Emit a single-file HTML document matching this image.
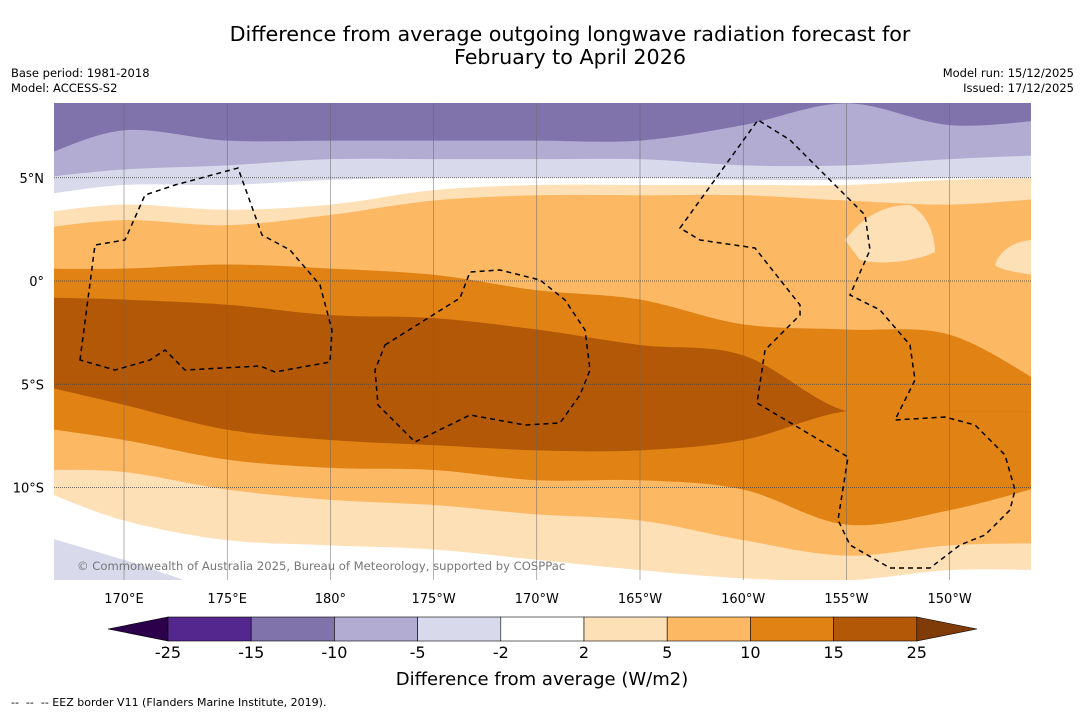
<!DOCTYPE html>
<html><head><meta charset="utf-8"><style>
body{margin:0;background:#fff;font-family:"DejaVu Sans","Liberation Sans",sans-serif;}
#wrap{position:relative;width:1085px;height:713px;overflow:hidden;background:#fff}
svg text{font-family:"DejaVu Sans","Liberation Sans",sans-serif;white-space:pre;}
</style></head><body>
<div id="wrap">
<svg id="svg" width="1085" height="713" xmlns="http://www.w3.org/2000/svg">
<text x="570" y="41" font-size="20.7" text-anchor="middle" fill="#000">Difference from average outgoing longwave radiation forecast for</text>
<text x="570" y="64" font-size="20.7" text-anchor="middle" fill="#000">February to April 2026</text>
<text x="11" y="77" font-size="11.5">Base period: 1981-2018</text>
<text x="11" y="92" font-size="11.5">Model: ACCESS-S2</text>
<text x="1074" y="77" font-size="11.5" text-anchor="end">Model run: 15/12/2025</text>
<text x="1074" y="92" font-size="11.5" text-anchor="end">Issued: 17/12/2025</text>
<defs><clipPath id="mapclip"><rect x="54" y="103" width="977" height="477"/></clipPath></defs>
<g id="map" clip-path="url(#mapclip)">
<rect x="54" y="103" width="977" height="477" fill="#8073ac"/>
<g id="bands"></g>
<path d="M845,240 C860,220 880,205 910,205 C930,215 935,240 935,252 C915,262 880,265 860,260 Z" fill="#fee0b6"/>
<path d="M995,265 C1000,250 1015,240 1035,240 L1035,275 C1020,273 1000,270 995,265 Z" fill="#fee0b6"/>
<g id="grid"></g>
<g fill="none" stroke="#000" stroke-width="1.5" stroke-dasharray="5,4">
<path d="M80,360 L95,245 L125,240 L145,195 L175,185 L238,168 L262,235 L290,250 L320,285 L332,330 L330,362 L275,372 L260,366 L185,370 L165,350 L150,360 L115,370 Z"/>
<path d="M385,345 L460,298 L470,272 L500,270 L540,280 L565,300 L585,330 L590,370 L580,395 L560,423 L525,425 L470,415 L415,442 L378,405 L375,370 Z"/>
<path d="M680,228 L758,120 L790,140 L835,185 L865,215 L870,250 L850,295 L880,310 L910,345 L915,380 L895,420 L945,417 L975,425 L1005,455 L1015,490 L1010,510 L985,535 L960,545 L930,568 L890,568 L850,545 L838,520 L848,457 L757,403 L765,350 L800,315 L800,305 L755,248 L700,240 Z"/>
</g>
<text x="77" y="570" font-size="11.6" fill="#777">© Commonwealth of Australia 2025, Bureau of Meteorology, supported by COSPPac</text>
</g>
<g id="axes"></g>
<g id="cbar"></g>
<text x="542" y="685" font-size="18" text-anchor="middle">Difference from average (W/m2)</text>
<text x="11" y="706" font-size="11" xml:space="preserve">--  --  -- EEZ border V11 (Flanders Marine Institute, 2019).</text>
</svg>
</div>
<script>
// longitudes in degrees east (180+ = west)
const lons=[166.6,170,175,180,185,190,195,200,205,210,214];
const c_m10=[6.0,7.3,6.8,6.8,6.8,6.8,6.8,7.55,8.6,7.55,7.8];
const c_m5=[5.0,5.4,5.6,5.9,5.9,5.9,5.9,5.6,5.6,5.9,6.1];
const c_m2n=[4.15,4.65,4.65,4.9,5.0,5.0,5.0,4.9,4.9,5.0,5.0];
const c_2n=[3.3,3.7,3.45,3.7,4.4,4.65,4.65,4.65,4.65,4.9,5.0];
const c_5n=[2.55,2.95,2.7,3.2,3.9,4.15,4.15,4.15,3.9,3.7,4.0];
const c_10n=[0.6,0.6,0.8,0.6,0.3,-0.45,-0.9,-2.1,-2.35,-2.6,-5.05];
const c_15n=[-0.8,-0.9,-1.15,-1.65,-1.8,-2.35,-3.1,-3.6,-6.3,-6.3,-6.3];
const c_15s=[-5.05,-6.0,-7.2,-7.7,-7.95,-8.2,-8.2,-7.7,-6.3,-6.3,-6.3];
const c_10s=[-7.1,-7.7,-8.65,-9.05,-9.15,-9.65,-9.65,-10.1,-11.8,-11.1,-9.9];
const c_5s=[-9.15,-9.25,-10.1,-10.6,-10.85,-11.3,-11.6,-12.55,-13.3,-12.8,-12.7];
const c_2s=[-10.1,-11.6,-12.55,-12.8,-13.0,-13.5,-14.0,-14.4,-14.5,-14.0,-14.0];
const c_m2s=[-12.3,-13.5,-15,-15,-15,-15,-15,-15,-15,-15,-15];
const cbLevels=[-25,-15,-10,-5,-2,2,5,10,15,25];
const cbColors=["#54278f","#8073ac","#b2abd2","#d8daeb","#ffffff","#fee0b6","#fdb863","#e08214","#b35806"];
const lonTicks=[170,175,180,185,190,195,200,205,210];
const lonLabels=["170°E","175°E","180°","175°W","170°W","165°W","160°W","155°W","150°W"];
const latTicks=[5,0,-5,-10];
const latLabels=["5°N","0°","5°S","10°S"];

const NS="http://www.w3.org/2000/svg";
const X=lon=>124+(lon-170)*20.64;
const Y=lat=>281-lat*20.65;
function mk(tag,attrs,parent){const e=document.createElementNS(NS,tag);for(const k in attrs)e.setAttribute(k,attrs[k]);parent.appendChild(e);return e;}
function smooth(pts){let d="M"+pts[0][0]+","+pts[0][1];for(let i=0;i<pts.length-1;i++){const p0=pts[i-1]||pts[i],p1=pts[i],p2=pts[i+1],p3=pts[i+2]||p2;
const c1=[p1[0]+(p2[0]-p0[0])/6,p1[1]+(p2[1]-p0[1])/6],c2=[p2[0]-(p3[0]-p1[0])/6,p2[1]-(p3[1]-p1[1])/6];
d+=" C"+c1+" "+c2+" "+p2;}return d;}
const bands=document.getElementById('bands');
const fills=[[c_m10,"#b2abd2"],[c_m5,"#d8daeb"],[c_m2n,"#ffffff"],[c_2n,"#fee0b6"],[c_5n,"#fdb863"],[c_10n,"#e08214"],[c_15n,"#b35806"],[c_15s,"#e08214"],[c_10s,"#fdb863"],[c_5s,"#fee0b6"],[c_2s,"#ffffff"],[c_m2s,"#d8daeb"]];
fills.forEach((f,i)=>{const pts=lons.map((l,j)=>[X(l),Y(f[0][j])]);
pts[0][0]=40;pts[pts.length-1][0]=1045;
const d=smooth(pts)+" L1045,700 L40,700 Z";
const p=mk('path',{d:d,fill:f[1]},bands);

});
const grid=document.getElementById('grid');
lonTicks.forEach(l=>{const ln=mk('line',{x1:X(l),x2:X(l),y1:103,y2:580,stroke:"#666","stroke-width":0.5},grid);

});
latTicks.forEach(l=>{const ln=mk('line',{x1:54,x2:1031,y1:Y(l),y2:Y(l),stroke:"#444","stroke-width":0.7,"stroke-dasharray":"1,1"},grid);

});
const axes=document.getElementById('axes');
lonTicks.forEach((l,i)=>{const t=mk('text',{x:X(l),y:603,"font-size":13,"text-anchor":"middle"},axes);t.textContent=lonLabels[i];

});
latTicks.forEach((l,i)=>{const t=mk('text',{x:44,y:Y(l)+5,"font-size":13,"text-anchor":"end"},axes);t.textContent=latLabels[i];

});
const cb=document.getElementById('cbar');
const cx=v=>{const i=cbLevels.indexOf(v);return 168+i*83.2;};
const cy0=617,cy1=641;
const lt=mk('polygon',{points:`108,629 168,${cy0} 168,${cy1}`,fill:"#2d004b",stroke:"#000","stroke-width":0.6},cb);


for(let i=0;i<cbColors.length;i++){const r=mk('rect',{x:cx(cbLevels[i]),y:cy0,width:cx(cbLevels[i+1])-cx(cbLevels[i]),height:cy1-cy0,fill:cbColors[i],stroke:"#000","stroke-width":0.6},cb);

}
const rt=mk('polygon',{points:`${cx(25)},${cy0} 977,629 ${cx(25)},${cy1}`,fill:"#7f3b08",stroke:"#000","stroke-width":0.6},cb);


cbLevels.forEach(v=>{const t=mk('text',{x:cx(v),y:658,"font-size":16,"text-anchor":"middle"},cb);t.textContent=String(v);

});
</script>
</body></html>
